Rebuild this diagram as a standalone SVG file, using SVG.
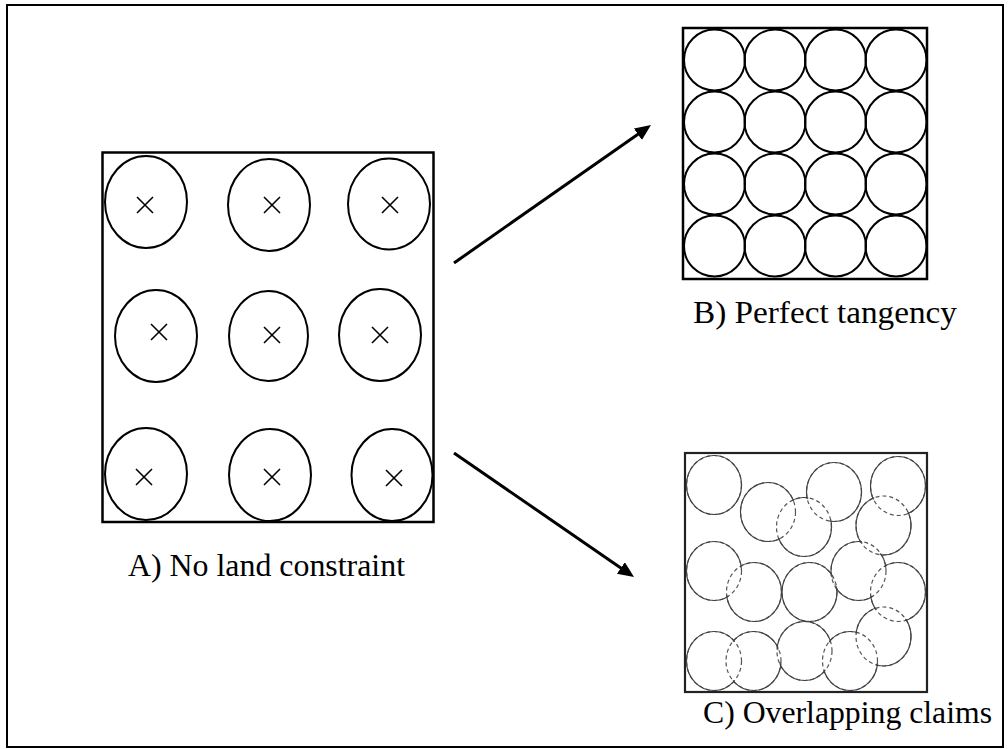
<svg xmlns="http://www.w3.org/2000/svg" width="1008" height="749" viewBox="0 0 1008 749">
<style>
.box{fill:none;stroke:#000;stroke-width:2.5}
.ca{fill:none;stroke:#000;stroke-width:2}
.xm{stroke:#000;stroke-width:1.6}
.cb{fill:none;stroke:#000;stroke-width:2}
.cc{fill:none;stroke:#444;stroke-width:1.2}
.cd{fill:none;stroke:#555;stroke-width:1.2;stroke-dasharray:4 3}
.lbl{font-family:'Liberation Serif','DejaVu Serif',serif;font-size:31px;fill:#000}
.arr{stroke:#000;stroke-width:3;fill:none}
</style>
<defs>
<marker id="ah" markerUnits="userSpaceOnUse" markerWidth="17" markerHeight="15" refX="11" refY="7" orient="auto">
<path d="M0,0 L16,7 L0,14 z" fill="#000"/>
</marker>
<g id="cshapes">
<ellipse cx="714" cy="485" rx="27.5" ry="29.5"/>
<ellipse cx="768" cy="512" rx="27.5" ry="29.5"/>
<ellipse cx="834" cy="492" rx="27.5" ry="29.5"/>
<ellipse cx="898" cy="486" rx="27.5" ry="29.5"/>
<ellipse cx="804" cy="527" rx="27.5" ry="29.5"/>
<ellipse cx="883.5" cy="525.5" rx="27.5" ry="29.5"/>
<ellipse cx="714" cy="571" rx="27.5" ry="29.5"/>
<ellipse cx="754" cy="592" rx="27.5" ry="29.5"/>
<ellipse cx="809.5" cy="592" rx="27.5" ry="29.5"/>
<ellipse cx="858.5" cy="571" rx="27.5" ry="29.5"/>
<ellipse cx="898" cy="592" rx="27.5" ry="29.5"/>
<ellipse cx="883.5" cy="636.5" rx="27.5" ry="29.5"/>
<ellipse cx="714" cy="661" rx="27.5" ry="29.5"/>
<ellipse cx="753.5" cy="661" rx="27.5" ry="29.5"/>
<ellipse cx="804.5" cy="651" rx="27.5" ry="29.5"/>
<ellipse cx="850" cy="661" rx="27.5" ry="29.5"/>
</g>
<mask id="ovl" maskUnits="userSpaceOnUse" x="0" y="0" width="1008" height="749">
<rect x="0" y="0" width="1008" height="749" fill="#fff"/>
<g fill="#000">
<ellipse cx="714" cy="485" rx="26.2" ry="28.2"/>
<ellipse cx="768" cy="512" rx="26.2" ry="28.2"/>
<ellipse cx="834" cy="492" rx="26.2" ry="28.2"/>
<ellipse cx="898" cy="486" rx="26.2" ry="28.2"/>
<ellipse cx="804" cy="527" rx="26.2" ry="28.2"/>
<ellipse cx="883.5" cy="525.5" rx="26.2" ry="28.2"/>
<ellipse cx="714" cy="571" rx="26.2" ry="28.2"/>
<ellipse cx="754" cy="592" rx="26.2" ry="28.2"/>
<ellipse cx="809.5" cy="592" rx="26.2" ry="28.2"/>
<ellipse cx="858.5" cy="571" rx="26.2" ry="28.2"/>
<ellipse cx="898" cy="592" rx="26.2" ry="28.2"/>
<ellipse cx="883.5" cy="636.5" rx="26.2" ry="28.2"/>
<ellipse cx="714" cy="661" rx="26.2" ry="28.2"/>
<ellipse cx="753.5" cy="661" rx="26.2" ry="28.2"/>
<ellipse cx="804.5" cy="651" rx="26.2" ry="28.2"/>
<ellipse cx="850" cy="661" rx="26.2" ry="28.2"/>
</g>
</mask>
</defs>
<rect x="0" y="0" width="1008" height="749" fill="#fff"/>
<rect id="frame" x="7" y="5" width="996" height="742" fill="none" stroke="#000" stroke-width="2"/>

<g id="panelA">
<rect class="box" x="102.5" y="152.5" width="331" height="369.5"/>
<ellipse class="ca" cx="146" cy="202" rx="41" ry="46"/>
<ellipse class="ca" cx="269" cy="205" rx="41" ry="46"/>
<ellipse class="ca" cx="389" cy="204" rx="41" ry="45.5"/>
<ellipse class="ca" cx="156" cy="336" rx="41" ry="46"/>
<ellipse class="ca" cx="268.5" cy="336" rx="39.5" ry="45"/>
<ellipse class="ca" cx="380" cy="335" rx="41" ry="46"/>
<ellipse class="ca" cx="146" cy="474" rx="41" ry="46"/>
<ellipse class="ca" cx="270" cy="475" rx="41" ry="46"/>
<ellipse class="ca" cx="392" cy="475" rx="40.5" ry="46"/>
<path class="xm" d="M137,197 L153,213 M153,197 L137,213 M264,197 L280,213 M280,197 L264,213 M382,197 L398,213 M398,197 L382,213 M151,324 L167,340 M167,324 L151,340 M264,327 L280,343 M280,327 L264,343 M372,327 L388,343 M388,327 L372,343 M136,469 L152,485 M152,469 L136,485 M264,469 L280,485 M280,469 L264,485 M386,470 L402,486 M402,470 L386,486"/>
<text class="lbl" font-family="Liberation Serif, DejaVu Serif, serif" x="128" y="576" textLength="277" lengthAdjust="spacingAndGlyphs">A) No land constraint</text>
</g>

<g id="panelB">
<rect class="box" x="683" y="28" width="244" height="251"/>
<circle class="cb" cx="714.5" cy="60" r="30.5"/>
<circle class="cb" cx="775" cy="60" r="30.5"/>
<circle class="cb" cx="835.5" cy="60" r="30.5"/>
<circle class="cb" cx="896" cy="60" r="30.5"/>
<circle class="cb" cx="714.5" cy="122" r="30.5"/>
<circle class="cb" cx="775" cy="122" r="30.5"/>
<circle class="cb" cx="835.5" cy="122" r="30.5"/>
<circle class="cb" cx="896" cy="122" r="30.5"/>
<circle class="cb" cx="714.5" cy="184" r="30.5"/>
<circle class="cb" cx="775" cy="184" r="30.5"/>
<circle class="cb" cx="835.5" cy="184" r="30.5"/>
<circle class="cb" cx="896" cy="184" r="30.5"/>
<circle class="cb" cx="714.5" cy="246" r="30.5"/>
<circle class="cb" cx="775" cy="246" r="30.5"/>
<circle class="cb" cx="835.5" cy="246" r="30.5"/>
<circle class="cb" cx="896" cy="246" r="30.5"/>
<text class="lbl" font-family="Liberation Serif, DejaVu Serif, serif" x="693" y="323" textLength="264" lengthAdjust="spacingAndGlyphs">B) Perfect tangency</text>
</g>

<g id="panelC">
<rect x="685" y="453" width="242" height="239" fill="none" stroke="#222" stroke-width="2.2"/>
<use href="#cshapes" class="cd"/>
<use href="#cshapes" class="cc" mask="url(#ovl)"/>
<text class="lbl" font-family="Liberation Serif, DejaVu Serif, serif" x="703" y="723" textLength="289" lengthAdjust="spacingAndGlyphs">C) Overlapping claims</text>
</g>

<g id="connectors">
<line class="arr" x1="454" y1="263" x2="646.9" y2="127.9" marker-end="url(#ah)"/>
<line class="arr" x1="454" y1="453" x2="629.9" y2="574.2" marker-end="url(#ah)"/>
</g>
</svg>
